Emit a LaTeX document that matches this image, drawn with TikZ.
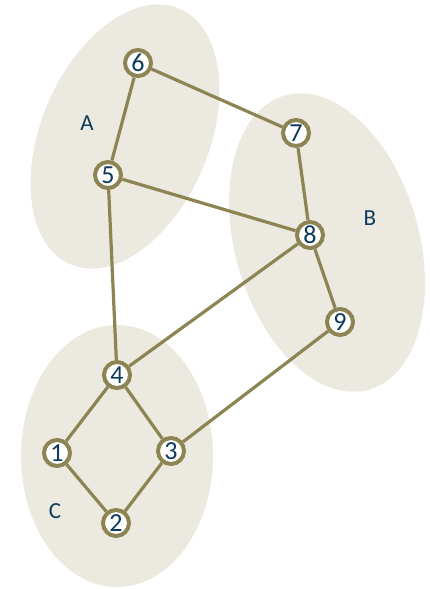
\documentclass[tikz,border=0pt]{standalone}
\usepackage{fontspec}
\setmainfont{Carlito}
\definecolor{olive}{HTML}{8C8452}
\definecolor{region}{HTML}{ECEAE0}
\definecolor{ink}{HTML}{0D3B5C}
\begin{document}
\begin{tikzpicture}[x=1pt,y=1pt,
  vertex/.style={circle,draw=olive,line width=4pt,fill=white,minimum size=26pt,
    inner sep=0pt,text=ink,font=\fontsize{26}{26}\selectfont},
  tag/.style={text=ink,font=\fontsize{23}{23}\selectfont},
  link/.style={draw=olive,line width=3.2pt},
  zone/.style={fill=region}]
\useasboundingbox (0,0) rectangle (430,-589);

% shaded regions
\fill[zone] (125,-136.5) ellipse[x radius=84,y radius=139,rotate=-23];
\fill[zone] (327,-242.5) ellipse[x radius=92,y radius=153,rotate=16];
\fill[zone] (117,-456) ellipse[x radius=96,y radius=131];

% region labels
\node[tag] (la) at (87,-123) {A};
\node[tag] (lb) at (370,-218) {B};
\node[tag] (lc) at (55,-511) {C};

% vertices
\node[vertex] (n6) at (138,-63) {6};
\node[vertex] (n7) at (296,-133) {7};
\node[vertex] (n5) at (108,-175) {5};
\node[vertex] (n8) at (310,-235) {8};
\node[vertex] (n9) at (340,-322) {9};
\node[vertex] (n4) at (117,-375) {4};
\node[vertex] (n1) at (57,-453) {1};
\node[vertex] (n3) at (171,-451) {3};
\node[vertex] (n2) at (116,-523) {2};

% edges
\draw[link] (n6) -- (n5);
\draw[link] (n6) -- (n7);
\draw[link] (n5) -- (n8);
\draw[link] (n7) -- (n8);
\draw[link] (n8) -- (n9);
\draw[link] (n5) -- (n4);
\draw[link] (n8) -- (n4);
\draw[link] (n9) -- (n3);
\draw[link] (n4) -- (n1);
\draw[link] (n4) -- (n3);
\draw[link] (n1) -- (n2);
\draw[link] (n3) -- (n2);
\end{tikzpicture}
\end{document}
